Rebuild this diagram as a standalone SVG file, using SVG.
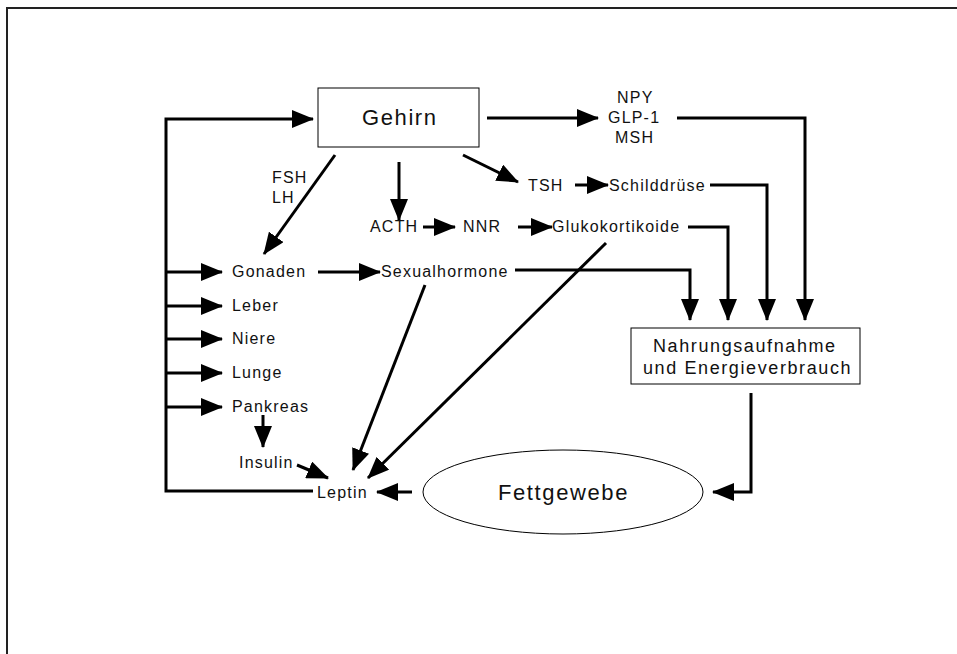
<svg xmlns="http://www.w3.org/2000/svg" width="957" height="654" viewBox="0 0 957 654">
<style>
  text { font-family: "Liberation Sans", Arial, sans-serif; fill: #111; }
  .s { font-size: 16px; letter-spacing: 1.2px; }
  .big { font-size: 22px; letter-spacing: 1.6px; }
  .mid { font-size: 18px; letter-spacing: 1.6px; }
  .box { fill: #fff; stroke: #000; stroke-width: 1; }
  .c { fill: none; stroke: #000; stroke-width: 3; marker-end: url(#ah); }
  .n { fill: none; stroke: #000; stroke-width: 3; }
</style>
<defs>
  <marker id="ah" markerUnits="userSpaceOnUse" markerWidth="22" markerHeight="18" viewBox="0 0 22 18" refX="21" refY="9" orient="auto">
    <path d="M0,0 L22,9 L0,18 z" fill="#000"/>
  </marker>
</defs>
<rect width="957" height="654" fill="#fff"/>
<path d="M7,654 V8 H957" fill="none" stroke="#222" stroke-width="2"/>

<g id="connectors">
  <path class="c" d="M313,491 H166 V119 H313"/>
  <path class="c" d="M166,272 H222"/>
  <path class="c" d="M166,306 H222"/>
  <path class="c" d="M166,339 H222"/>
  <path class="c" d="M166,373 H222"/>
  <path class="c" d="M166,407 H222"/>
  <path class="c" d="M487,118 H598"/>
  <path class="c" d="M677,118 H805 V320"/>
  <path class="c" d="M463,155 L518,182"/>
  <path class="c" d="M575,185 H608"/>
  <path class="c" d="M710,185 H767 V320"/>
  <path class="c" d="M399,162 V220"/>
  <path class="c" d="M423,227 H455"/>
  <path class="c" d="M518,227 H552"/>
  <path class="c" d="M688,227 H728 V320"/>
  <path class="c" d="M335,155 L264,254"/>
  <path class="c" d="M318,272 H380"/>
  <path class="c" d="M515,270 H690 V320"/>
  <path class="c" d="M425,285 L353,470"/>
  <path class="c" d="M606,243 L368,478"/>
  <path class="c" d="M263,415 V447"/>
  <path class="c" d="M297,465 L328,478"/>
  <path class="c" d="M751,393 V492 H713"/>
  <path class="c" d="M412,492 H377"/>
</g>

<g id="gehirn">
  <rect class="box" x="318" y="88" width="161" height="59"/>
  <text class="big" x="362" y="125">Gehirn</text>
</g>
<g id="npy">
  <text class="s" x="617" y="103">NPY</text>
  <text class="s" x="608" y="123">GLP-1</text>
  <text class="s" x="615" y="143">MSH</text>
</g>
<g id="fsh"><text class="s" x="272" y="183">FSH</text><text class="s" x="272" y="203">LH</text></g>
<g id="tsh"><text class="s" x="528" y="191">TSH</text></g>
<g id="schilddruese"><text class="s" x="609" y="191">Schilddrüse</text></g>
<g id="acth"><text class="s" x="370" y="232">ACTH</text></g>
<g id="nnr"><text class="s" x="463" y="232">NNR</text></g>
<g id="gluko"><text class="s" x="552" y="232">Glukokortikoide</text></g>
<g id="gonaden"><text class="s" x="232" y="277">Gonaden</text></g>
<g id="sexual"><text class="s" x="381" y="277">Sexualhormone</text></g>
<g id="leber"><text class="s" x="232" y="311">Leber</text></g>
<g id="niere"><text class="s" x="232" y="344">Niere</text></g>
<g id="lunge"><text class="s" x="232" y="378">Lunge</text></g>
<g id="pankreas"><text class="s" x="232" y="412">Pankreas</text></g>
<g id="insulin"><text class="s" x="239" y="468">Insulin</text></g>
<g id="leptin"><text class="s" x="317" y="498">Leptin</text></g>
<g id="nahrung">
  <rect class="box" x="631" y="328" width="229" height="56"/>
  <text class="mid" x="653" y="352">Nahrungsaufnahme</text>
  <text class="mid" x="643" y="374">und Energieverbrauch</text>
</g>
<g id="fettgewebe">
  <ellipse class="box" cx="563" cy="492" rx="140" ry="42"/>
  <text class="big" x="498" y="500">Fettgewebe</text>
</g>
</svg>
